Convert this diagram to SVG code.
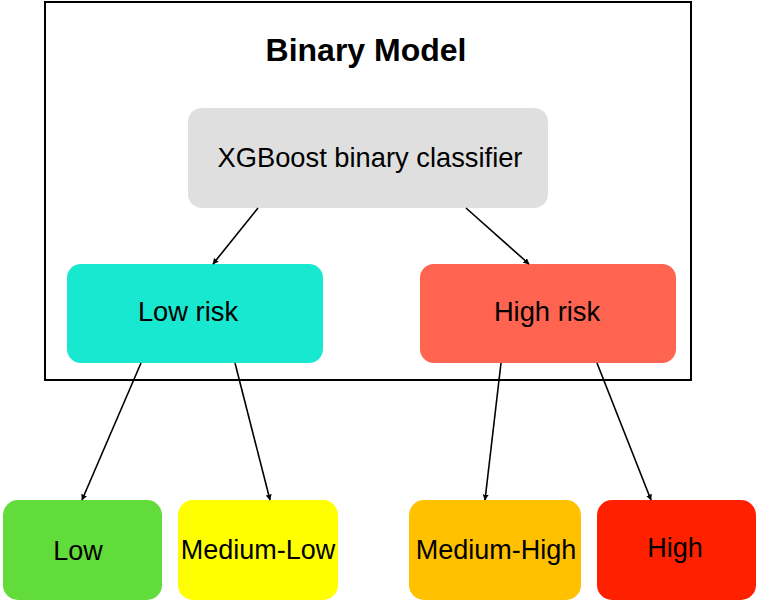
<svg xmlns="http://www.w3.org/2000/svg" width="757" height="604" viewBox="0 0 757 604">
<style>
text{font-family:"Liberation Sans",Arial,sans-serif;font-size:27.3px;fill:#000;text-anchor:middle}
.title{font-weight:bold;font-size:32px}
.bottom{font-size:27px}
.edge{stroke:#000;stroke-width:1.6;fill:none;marker-end:url(#ah)}
</style>
<defs>
<marker id="ah" viewBox="0 0 10 10" refX="9" refY="5" markerWidth="6" markerHeight="6" markerUnits="userSpaceOnUse" orient="auto">
<path d="M0,0 L10,5 L0,10 z" fill="#000"/>
</marker>
</defs>
<rect width="757" height="604" fill="#fff"/>
<g id="frame">
<rect x="45" y="2" width="646" height="378" fill="none" stroke="#000" stroke-width="2"/>
<text class="title" x="366" y="61">Binary Model</text>
</g>
<g id="xgb">
<rect x="188" y="108" width="360" height="100" rx="14" fill="#dfdfdf"/>
<text x="370" y="167">XGBoost binary classifier</text>
</g>
<g id="lowrisk">
<rect x="67" y="264" width="256" height="99" rx="14" fill="#18e8d0"/>
<text x="188" y="321">Low risk</text>
</g>
<g id="highrisk">
<rect x="420" y="264" width="256" height="99" rx="14" fill="#ff6450"/>
<text x="547" y="321">High risk</text>
</g>
<g id="low">
<rect x="3" y="500" width="159" height="100" rx="15" fill="#62dc3a"/>
<text class="bottom" x="78" y="560">Low</text>
</g>
<g id="medlow">
<rect x="178" y="500" width="160" height="100" rx="15" fill="#ffff00"/>
<text class="bottom" x="258" y="559">Medium-Low</text>
</g>
<g id="medhigh">
<rect x="409" y="500" width="172" height="100" rx="15" fill="#ffc000"/>
<text class="bottom" x="496" y="559">Medium-High</text>
</g>
<g id="high">
<rect x="597" y="500" width="159" height="100" rx="15" fill="#ff2000"/>
<text class="bottom" x="675" y="557">High</text>
</g>
<g id="connectors">
<line class="edge" x1="258" y1="208" x2="213" y2="264"/>
<line class="edge" x1="466" y1="208" x2="529" y2="264"/>
<line class="edge" x1="141" y1="363" x2="82" y2="500"/>
<line class="edge" x1="235" y1="363" x2="270" y2="500"/>
<line class="edge" x1="501" y1="363" x2="485" y2="500"/>
<line class="edge" x1="597" y1="363" x2="651" y2="500"/>
</g>
</svg>
